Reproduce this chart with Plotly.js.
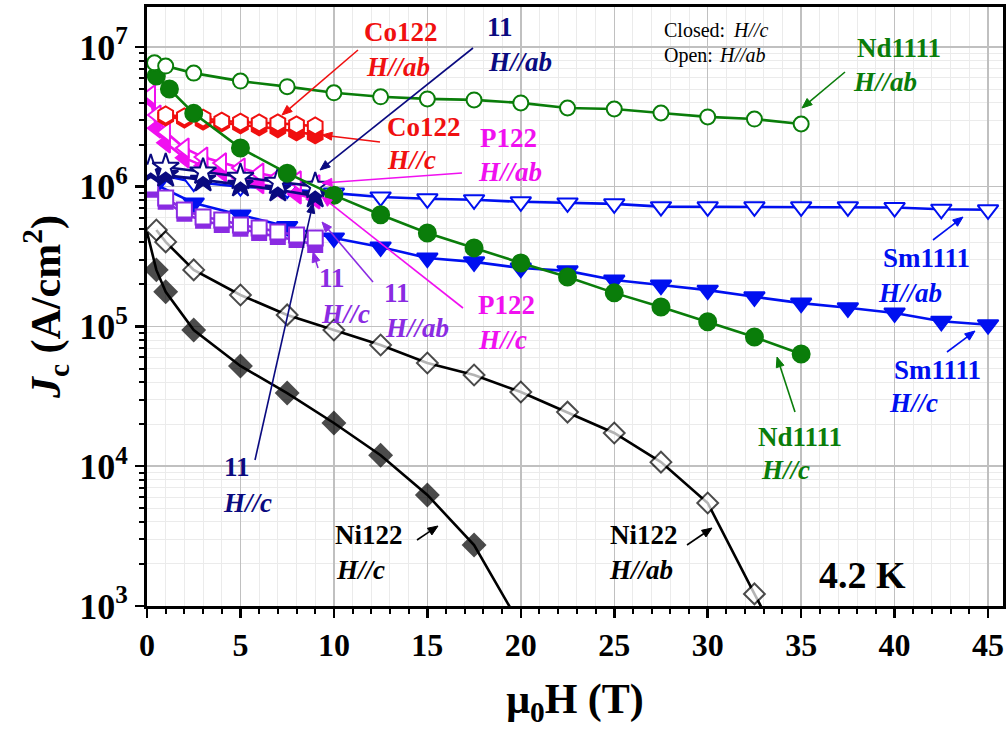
<!DOCTYPE html>
<html>
<head>
<meta charset="utf-8">
<script src="https://cdn.plot.ly/plotly-3.0.1.min.js"></script>
<style>html,body{margin:0;padding:0;background:#fff;}#chart{width:1006px;height:730px;}</style>
</head>
<body>
<div id="chart"></div>
<script>
// ---- data ----
const ndAbX = [0.4,1,2.5,5,7.5,10,12.5,15,17.5,20,22.5,25,27.5,30,32.5,35];
const ndAbY = [7.7e6,7.3e6,6.5e6,5.7e6,5.2e6,4.7e6,4.4e6,4.25e6,4.18e6,3.98e6,3.66e6,3.6e6,3.37e6,3.16e6,3.05e6,2.81e6];
const ndCX = [0.5,1.2,2.5,5,7.5,10,12.5,15,17.5,20,22.5,25,27.5,30,32.5,35];
const ndCY = [6.2e6,5.0e6,3.35e6,1.89e6,1.25e6,8.7e5,6.3e5,4.67e5,3.65e5,2.85e5,2.26e5,1.74e5,1.38e5,1.08e5,8.4e4,6.36e4];
const smAbX = [0.3,2.5,5,7.5,10,12.5,15,17.5,20,22.5,25,27.5,30,32.5,35,37.5,40,42.5,45];
const smAbY = [1.25e6,1.08e6,1.0e6,9.6e5,9.0e5,8.45e5,8.2e5,8.07e5,7.8e5,7.66e5,7.54e5,7.2e5,7.18e5,7.18e5,7.18e5,7.18e5,7.1e5,6.9e5,6.84e5];
const smCX = [0.5,2.5,5,7.5,10,12.5,15,17.5,20,22.5,25,27.5,30,32.5,35,37.5,40,42.5,45];
const smCY = [1.03e6,7.65e5,6.28e5,5.2e5,4.3e5,3.71e5,3.09e5,2.9e5,2.62e5,2.5e5,2.15e5,1.98e5,1.82e5,1.63e5,1.47e5,1.36e5,1.25e5,1.09e5,1.03e5];
const coAbX = [1,2,3,4,5,6,7,8,9];
const coAbY = [3.26e6,3.16e6,3.1e6,2.95e6,2.9e6,2.86e6,2.86e6,2.77e6,2.72e6];
const coCX = [1,2,3,4,5,6,7,8,9];
const coCY = [3.16e6,3.05e6,2.95e6,2.86e6,2.77e6,2.68e6,2.6e6,2.47e6,2.35e6];
const pAbX = [0.2,0.5,1,2,3,4,5,6,7,8,9];
const pAbY = [4.54e6,3.26e6,2.46e6,1.89e6,1.63e6,1.48e6,1.36e6,1.25e6,1.17e6,1.1e6,1.03e6];
const pCX = [0.2,0.5,1,2,3,4,5,6,7,8,9];
const pCY = [4.18e6,2.63e6,2.06e6,1.61e6,1.41e6,1.28e6,1.16e6,1.05e6,9.64e5,8.88e5,8.17e5];
const fsAbX = [0.2,1,3,5,7,9];
const fsAbY = [1.36e6,1.38e6,1.28e6,1.17e6,1.08e6,1.01e6];
const fsCX = [0.2,1,3,5,7,9];
const fsCY = [1.28e6,1.21e6,1.12e6,1.03e6,9.5e5,8.6e5];
const fqAbX = [0.2,1,2,3,4,5,6,7,8,9];
const fqAbY = [1.03e6,8.31e5,6.82e5,6.08e5,5.78e5,5.33e5,5.07e5,4.75e5,4.52e5,4.3e5];
const fqCX = [0.2,1,2,3,4,5,6,7,8,9];
const fqCY = [9.5e5,7.8e5,6.4e5,5.7e5,5.33e5,5.0e5,4.67e5,4.37e5,4.16e5,3.83e5];
const niAbX = [0.5,1,2.5,5,7.5,10,12.5,15,17.5,20,22.5,25,27.5,30,32.5,33.5];
const niAbY = [4.9e5,4.03e5,2.54e5,1.68e5,1.21e5,9.44e4,7.37e4,5.48e4,4.5e4,3.4e4,2.44e4,1.73e4,1.07e4,5.46e3,1.22e3,6.8e2];
const niCX = [0,0.5,1,2.5,5,7.5,10,12.5,15,17.5,20];
const niCY = [4.74e5,2.54e5,1.77e5,9.44e4,5.22e4,3.34e4,2.04e4,1.2e4,6.23e3,2.73e3,7.2e2];
const xTicks = [0,5,10,15,20,25,30,35,40,45];
const yTickVals = [1e3,1e4,1e5,1e6,1e7];
const yTickText = ['10<sup>3</sup>','10<sup>4</sup>','10<sup>5</sup>','10<sup>6</sup>','10<sup>7</sup>'];

// ---- styles ----
const GREEN='#0a7d0a', RED='#f01010', BLUE='#0010f0', NAVY='#0a0a80', MAG='#f010f0', PURP='#8a2be2', BLK='#000000';
const FONT='Liberation Serif';

function tr(x,y,sym,color,open,size,sizes){
  return {x:x,y:y,type:'scatter',mode:'lines+markers',showlegend:false,cliponaxis:true,
    line:{color:color,width:2.6},
    marker:{symbol:sym,size:sizes||size,color:open?'#ffffff':color,line:{color:color,width:2}}};
}
const niAbSizes = niAbX.map((v,i)=> i===niAbX.length-1 ? 0 : 16);
const niCSizes = niCX.map((v,i)=> (i===0||i===niCX.length-1) ? 0 : 17);

const data = [
  tr(niCX,niCY,'diamond',BLK,false,17,niCSizes),
  tr(niAbX,niAbY,'diamond',BLK,true,16,niAbSizes),
  tr(smCX,smCY,'triangle-down',BLUE,false,18),
  tr(smAbX,smAbY,'triangle-down',BLUE,true,18),
  tr(fqCX,fqCY,'square',PURP,false,14),
  tr(fqAbX,fqAbY,'square',PURP,true,15),
  tr(pCX,pCY,'triangle-left',MAG,false,17),
  tr(pAbX,pAbY,'triangle-left',MAG,true,17),
  tr(coCX,coCY,'hexagon',RED,false,17),
  tr(coAbX,coAbY,'hexagon',RED,true,17),
  tr(fsCX,fsCY,'star',NAVY,false,19),
  tr(fsAbX,fsAbY,'star',NAVY,true,20),
  tr(ndCX,ndCY,'circle',GREEN,false,17),
  tr(ndAbX,ndAbY,'circle',GREEN,true,15)
];

// ---- annotations & arrows (pixel positions converted to paper coords) ----
const PL=147, PT=7, PW=856, PH=599;
function P(px,py){return [(px-PL)/PW,(PT+PH-py)/PH];}
const anns=[], shapes=[];
function txt(s,px,py,color,size,italic,bold,anchor){
  const p=P(px,py);
  anns.push({xref:'paper',yref:'paper',x:p[0],y:p[1],xanchor:anchor||'center',yanchor:'middle',
    text:s,showarrow:false,
    font:{family:FONT,size:size||27,color:color,weight:(bold===false)?'normal':'bold',style:italic?'italic':'normal'}});
}
function arr(tx,ty,hx,hy,color){
  const dx=hx-tx, dy=hy-ty, len=Math.sqrt(dx*dx+dy*dy), ux=dx/len, uy=dy/len;
  const L=10, W=4;
  const bx=hx-ux*L, by=hy-uy*L;
  const a=P(tx,ty), b=P(bx+ux*2,by+uy*2);
  shapes.push({type:'line',xref:'paper',yref:'paper',x0:a[0],y0:a[1],x1:b[0],y1:b[1],line:{color:color,width:1.6}});
  const h=P(hx,hy), l=P(bx-uy*W,by+ux*W), r=P(bx+uy*W,by-ux*W);
  shapes.push({type:'path',xref:'paper',yref:'paper',
    path:'M '+h[0]+' '+h[1]+' L '+l[0]+' '+l[1]+' L '+r[0]+' '+r[1]+' Z',
    fillcolor:color,line:{color:color,width:1}});
}
txt('Co122',401,32,RED); txt('H//ab',398,67,RED,27,true);
txt('Co122',424,127,RED); txt('H//c',411,160,RED,27,true);
txt('11',500,27,NAVY); txt('H//ab',520,62,NAVY,27,true);
txt('P122',508,138,MAG); txt('H//ab',510,172,MAG,27,true);
txt('Closed:',662,30,BLK,20,false,false,'left'); txt('H//c',731,30,BLK,20,true,false,'left');
txt('Open:',662,55,BLK,20,false,false,'left'); txt('H//ab',717,55,BLK,20,true,false,'left');
txt('Nd1111',899,48,GREEN); txt('H//ab',885,82,GREEN,27,true);
txt('Sm1111',926,258,BLUE); txt('H//ab',910,293,BLUE,27,true);
txt('Sm1111',937,370,BLUE); txt('H//c',913,403,BLUE,27,true);
txt('Nd1111',800,437,GREEN); txt('H//c',785,470,GREEN,27,true);
txt('11',332,278,PURP); txt('H//c',345,314,PURP,27,true);
txt('11',397,293,PURP); txt('H//ab',417,328,PURP,27,true);
txt('P122',506,305,MAG); txt('H//c',502,340,MAG,27,true);
txt('11',237,467,NAVY); txt('H//c',247,503,NAVY,27,true);
txt('Ni122',369,535,BLK); txt('H//c',360,570,BLK,27,true);
txt('Ni122',644,535,BLK); txt('H//ab',641,570,BLK,27,true);
txt('4.2 K',862,575,BLK,38);

arr(358,50,282,115,RED);
arr(380,142,322,135,RED);
arr(473,48,320,170,NAVY);
arr(462,173,322,183,MAG);
arr(845,72,802,108,GREEN);
arr(933,240,963,217,BLUE);
arr(947,352,975,331,BLUE);
arr(795,412,777,357,GREEN);
arr(318,268,313,252,PURP);
arr(373,282,322,222,PURP);
arr(463,308,322,197,MAG);
arr(255,460,313,203,NAVY);
arr(417,540,438,526,BLK);
arr(687,545,712,528,BLK);

const layout = {
  width:1006,height:730,
  margin:{l:PL,r:1006-PL-PW,t:PT,b:730-PT-PH,pad:0},
  paper_bgcolor:'#ffffff',plot_bgcolor:'#ffffff',
  showlegend:false,
  xaxis:{range:[0,45.8],tickmode:'array',tickvals:xTicks,ticks:'outside',ticklen:9,tickwidth:2.5,tickcolor:'#000',
    showline:true,linewidth:3,linecolor:'#000',mirror:true,zeroline:false,
    showgrid:true,gridcolor:'#c0c0c0',gridwidth:1.5,
    minor:{dtick:1,ticks:'outside',ticklen:5,tickwidth:2,tickcolor:'#000',showgrid:true,gridcolor:'#ebebeb',gridwidth:1},
    tickfont:{family:FONT,size:32,color:'#000',weight:'bold'},
    title:{text:'μ<sub>0</sub>H (T)',font:{family:FONT,size:42,color:'#000',weight:'bold'},standoff:22}},
  yaxis:{type:'log',range:[3,7.286],tickmode:'array',tickvals:yTickVals,ticktext:yTickText,ticks:'outside',ticklen:9,tickwidth:2.5,tickcolor:'#000',
    showline:true,linewidth:3,linecolor:'#000',mirror:'ticks',zeroline:false,
    showgrid:true,gridcolor:'#c0c0c0',gridwidth:1.5,
    minor:{dtick:'D1',ticks:'outside',ticklen:5,tickwidth:2,tickcolor:'#000',showgrid:true,gridcolor:'#ebebeb',gridwidth:1},
    tickfont:{family:FONT,size:36,color:'#000',weight:'bold'},
    title:{text:'<i>J</i><sub>c</sub> (A/cm<sup>2</sup>)',font:{family:FONT,size:42,color:'#000',weight:'bold'},standoff:6}},
  annotations:anns,
  shapes:shapes
};
Plotly.newPlot('chart',data,layout,{displayModeBar:false,staticPlot:true});
</script>
</body>
</html>
